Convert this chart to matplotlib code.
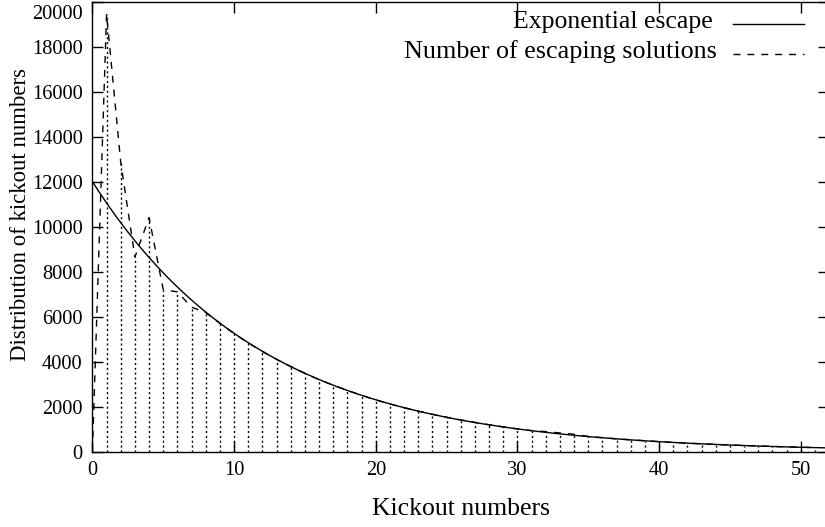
import matplotlib
matplotlib.use('Agg')
import matplotlib.pyplot as plt
import matplotlib.transforms as mtrans
import numpy as np

plt.rcParams['font.family'] = ['Liberation Serif', 'DejaVu Serif']

# kickout numbers and number of escaping solutions
kickouts = np.arange(0, 52)
escaping = [0, 19450, 12850, 8650, 10400, 7200, 7100, 6420, 6180, 5700,
            5250, 4830, 4450, 4100, 3780, 3480, 3200, 2950, 2720, 2500,
            2300, 2120, 1950, 1800, 1660, 1530, 1410, 1300, 1195, 1100,
            1010, 935, 890, 830, 770, 675, 620, 570, 525, 485,
            445, 410, 378, 348, 320, 295, 272, 250, 230, 212,
            196, 180]

# exponential escape fit: amplitude * exp(-rate * n)
amplitude = 12000
rate = 0.0825

xticks = [0, 10, 20, 30, 40, 50]
yticks = list(range(0, 20001, 2000))

fig = plt.figure(figsize=(8.25, 5.27), dpi=100)
ax = fig.add_axes([0.112, 0.143, 0.893, 0.854])

n = np.linspace(0, 52, 400)
ax.plot(n, amplitude * np.exp(-rate * n), color='black', lw=1.0)
ax.plot(kickouts, escaping, color='black', lw=1.0, linestyle=(0, (5, 5)))
ax.vlines(kickouts, 0, escaping, color='black', lw=1.0, linestyles=(0, (1.5, 2)))

ax.set_xlim(0, 52)
ax.set_ylim(0, 20000)
ax.set_xticks(xticks)
ax.set_yticks(yticks)
ax.tick_params(direction='in', length=8, width=1, labelsize=14.7,
               top=True, right=True, pad=7)
for s in ax.spines.values():
    s.set_linewidth(1)

ax.set_xlabel('Kickout numbers', fontsize=18.5, labelpad=13)
ax.set_ylabel('Distribution of kickout numbers', fontsize=16.4)
ax.yaxis.set_label_coords(-0.083, 0.526)

# top y label sits a bit lower so it is not cut by the edge
top_lab = ax.get_yticklabels()[-1]
top_lab.set_transform(top_lab.get_transform() +
                      mtrans.ScaledTranslation(0, -0.10, fig.dpi_scale_trans))

# legend, gnuplot style (text right-aligned, sample to its right)
ax.text(0.842, 0.955, 'Exponential escape', transform=ax.transAxes,
        ha='right', va='center', fontsize=18.5)
ax.plot([0.870, 0.9655], [0.950, 0.950], transform=ax.transAxes,
        color='black', lw=1.0)
ax.text(0.848, 0.888, 'Number of escaping solutions', transform=ax.transAxes,
        ha='right', va='center', fontsize=18.8)
ax.plot([0.870, 0.9655], [0.884, 0.884], transform=ax.transAxes,
        color='black', lw=1.0, linestyle=(0, (5, 5)))

fig.savefig('out.png', dpi=100)
